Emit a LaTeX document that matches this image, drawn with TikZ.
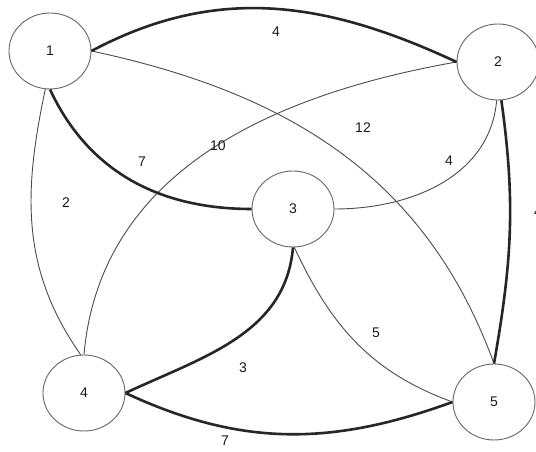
\documentclass[tikz,border=0pt]{standalone}
\usepackage{fontspec}
\setmainfont{Liberation Sans}
\usetikzlibrary{shapes.geometric}
\begin{document}
\begin{tikzpicture}[x=1pt,y=1pt,
  vertex/.style={ellipse,draw=black!60,line width=0.9pt,minimum width=82pt,minimum height=76pt,inner sep=0pt,font=\fontsize{14}{16}\selectfont,text=black!90},
  thin edge/.style={draw=black!70,line width=0.9pt},
  thick edge/.style={draw=black!85,line width=2.6pt},
  wlabel/.style={font=\fontsize{14}{16}\selectfont,text=black!90,inner sep=0pt}]
\useasboundingbox (0,0) rectangle (536,452);
\fill[white] (0,0) rectangle (536,452);
\node[vertex] (n1) at (50,401) {1};
\node[vertex] (n2) at (498,390) {2};
\node[vertex] (n3) at (293,243) {3};
\node[vertex] (n4) at (84,59) {4};
\node[vertex] (n5) at (494,50) {5};
% thin edges
\draw[thin edge] (n1.east) to[out=-12,in=110] (n5.north);
\draw[thin edge] (n1.-97) to[out=-102,in=125] (n4.95);
\draw[thin edge] (n2.west) to[out=190,in=85] (n4.north);
\draw[thin edge] (n2.-92) to[out=-95,in=0] (n3.east);
\draw[thin edge] (n3.-88) to[out=-65,in=160] (n5.west);
% thick edges
\draw[thick edge] (n1.east) to[out=28,in=155] (n2.west);
\draw[thick edge] (n1.south) to[out=-65,in=180] (n3.west);
\draw[thick edge] (n2.-85) to[out=-82,in=80] (n5.north);
\draw[thick edge] (n3.south) to[out=-95,in=25] (n4.east);
\draw[thick edge] (n4.east) to[out=-25,in=200] (n5.west);
% labels
\node[wlabel] (l12) at (276,420) {4};
\node[wlabel] (l15) at (363,324) {12};
\node[wlabel] (l24) at (218,306) {10};
\node[wlabel] (l13) at (142,290) {7};
\node[wlabel] (l14) at (66,249) {2};
\node[wlabel] (l23) at (449,291) {4};
\node[wlabel] (l25) at (538,240) {4};
\node[wlabel] (l35) at (376,119) {5};
\node[wlabel] (l34) at (243,84) {3};
\node[wlabel] (l45) at (225,11) {7};
\end{tikzpicture}
\end{document}
